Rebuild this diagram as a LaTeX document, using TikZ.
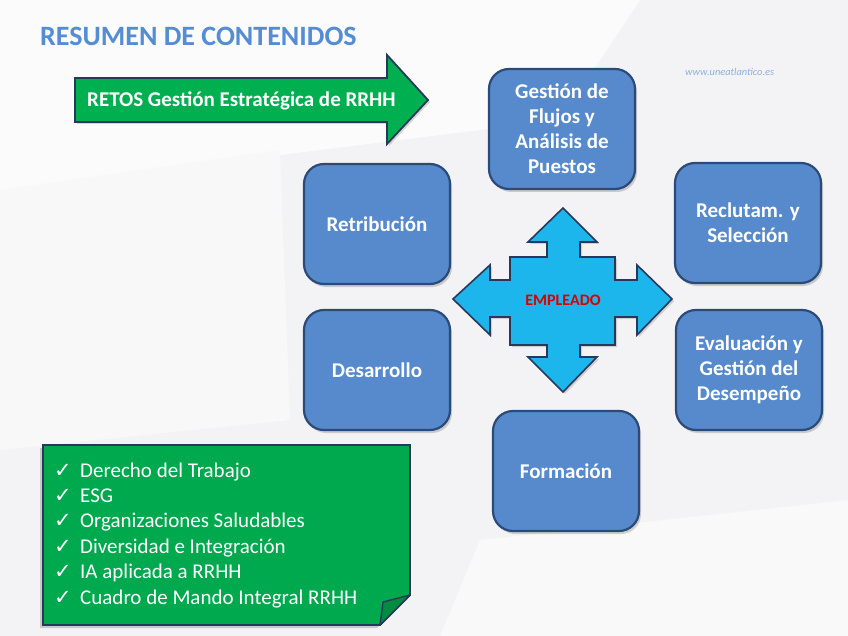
\documentclass[tikz,border=0pt]{standalone}
\usepackage{fontspec}
\setmainfont{Carlito}
\newfontfamily\symfont{DejaVu Sans}
\usetikzlibrary{shadows}

\definecolor{titblue}{RGB}{84,141,212}
\definecolor{boxblue}{RGB}{86,138,204}
\definecolor{boxline}{RGB}{44,74,120}
\definecolor{retgreen}{RGB}{0,176,80}
\definecolor{listgreen}{RGB}{0,168,78}
\definecolor{foldgreen}{RGB}{0,140,64}
\definecolor{navy}{RGB}{40,56,90}
\definecolor{emplblue}{RGB}{28,182,236}
\definecolor{webblue}{RGB}{140,175,222}
\definecolor{bggray}{RGB}{243,243,245}

\newcommand{\chk}{\makebox[26pt][l]{\symfont ✓}}

\begin{document}
\begin{tikzpicture}[x=1pt, y=-1pt,
  area/.style={draw=boxline, line width=2.2pt, fill=boxblue, rounded corners=20pt,
    minimum width=146pt, minimum height=120pt, align=center, text=white,
    font=\fontsize{21}{25}\selectfont\bfseries,
    drop shadow={opacity=0.35, shadow xshift=2pt, shadow yshift=-3pt}},
  item/.style={anchor=base west, inner sep=0pt, text=white, font=\fontsize{21}{24}\selectfont}]
\useasboundingbox (0,0) rectangle (848,636);
\fill[bggray] (0,0) rectangle (848,636);
\fill[white!70!bggray] (0,0) -- (640,0) -- (560,120) -- (0,190) -- cycle;
\fill[white!40!bggray] (0,190) -- (280,150) -- (290,420) -- (0,450) -- cycle;
\fill[white!50!bggray] (440,636) -- (480,540) -- (848,500) -- (848,636) -- cycle;

\node[anchor=base west, inner sep=0pt, text=titblue, font=\fontsize{28}{32}\selectfont\bfseries] (title) at (40,46) {RESUMEN DE CONTENIDOS};
\node[anchor=base west, inner sep=0pt, text=webblue, font=\fontsize{10.4}{12}\selectfont\itshape] (web) at (685,76) {www.uneatlantico.es};

\draw[navy, line width=1.8pt, fill=retgreen, line join=miter,
  drop shadow={opacity=0.3, shadow xshift=2pt, shadow yshift=-2pt}]
  (75,78) -- (387,78) -- (387,55) -- (428,100) -- (387,144) -- (387,122) -- (75,122) -- cycle;
\node[anchor=base west, inner sep=0pt, text=white, font=\fontsize{21}{24}\selectfont\bfseries] (retos) at (87,107) {RETOS Gestión Estratégica de RRHH};

\node[area] (flujos) at (562,129) {Gestión de\\Flujos y\\Análisis de\\Puestos};
\node[area] (retrib) at (377,224) {Retribución};
\node[area] (reclut) at (748,223) {Reclutam. y\\Selección};
\node[area] (desarr) at (377,370) {Desarrollo};
\node[area] (evalua) at (749,370) {Evaluación y\\Gestión del\\Desempeño};
\node[area] (formac) at (566,471) {Formación};

\draw[navy, line width=1.6pt, fill=emplblue, line join=miter,
  drop shadow={opacity=0.3, shadow xshift=2pt, shadow yshift=-2pt}]
  (563,208) -- (597,242) -- (580,242) -- (580,257) -- (615,257) -- (615,280) -- (637,280) -- (637,265)
  -- (672,299) -- (637,335) -- (637,317) -- (615,317) -- (615,345) -- (580,345) -- (580,357) -- (597,357)
  -- (563,392) -- (528,357) -- (547,357) -- (547,345) -- (510,345) -- (510,317) -- (490,317) -- (490,335)
  -- (453,299) -- (490,265) -- (490,280) -- (510,280) -- (510,257) -- (547,257) -- (547,242) -- (528,242) -- cycle;
\node[text=red!85!black, font=\fontsize{16}{18}\selectfont\bfseries] (empl) at (563,300) {EMPLEADO};

\draw[navy, line width=1.8pt, fill=listgreen,
  drop shadow={opacity=0.35, shadow xshift=-3pt, shadow yshift=-3pt}]
  (43,445) -- (410,445) -- (410,595) -- (380,625) -- (43,625) -- cycle;
\draw[navy, line width=1.4pt, fill=foldgreen, line join=round] (410,595) -- (383,602) -- (380,625) -- cycle;
\foreach \t [count=\i] in {Derecho del Trabajo, ESG, Organizaciones Saludables,
  Diversidad e Integración, IA aplicada a RRHH, Cuadro de Mando Integral RRHH}
  \node[item] (li\i) at (54,{477+25.4*(\i-1)}) {\chk\t};
\end{tikzpicture}
\end{document}
